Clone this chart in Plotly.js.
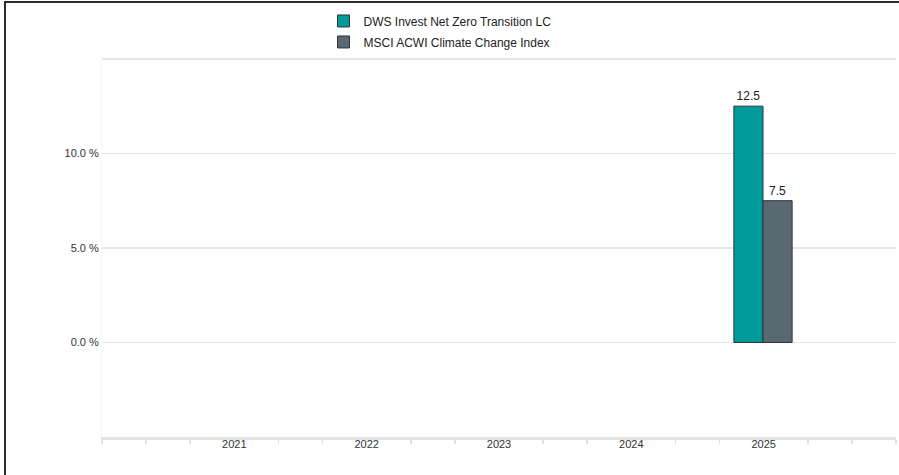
<!DOCTYPE html>
<html>
<head>
<meta charset="utf-8">
<script src="https://cdn.plot.ly/plotly-3.0.1.min.js"></script>
<style>
  html, body { margin: 0; padding: 0; background: #fff; }
  #wrap { position: relative; width: 899px; height: 475px; overflow: hidden; }
  #chart { position: absolute; left: 0; top: 0; width: 899px; height: 475px; }
  #frame { position: absolute; left: 4px; top: 1px; width: 1000px; height: 1000px;
           border-top: 2px solid #2b2b2b; border-left: 2px solid #2b2b2b; pointer-events: none; }
</style>
</head>
<body>
<div id="wrap">
  <div id="chart"></div>
  <div id="frame"></div>
</div>
<script>
const years = [2021, 2022, 2023, 2024, 2025];
const yearLabels = ['2021', '2022', '2023', '2024', '2025'];
const fundName = 'DWS Invest Net Zero Transition LC';
const indexName = 'MSCI ACWI Climate Change Index';
const fundValues = [null, null, null, null, 12.5];
const indexValues = [null, null, null, null, 7.5];
const yTickVals = [0, 5, 10, 15];
const yTickText = ['0.0 %', '5.0 %', '10.0 %', ''];

const fmt = v => (v === null ? '' : v.toFixed(1));

const traces = [
  {
    type: 'bar', name: fundName, x: years, y: fundValues, legendgroup: 'a',
    width: 0.22, offset: -0.225,
    marker: { color: '#009a9a', line: { color: '#2e3438', width: 1 } },
    text: fundValues.map(fmt), textposition: 'outside', cliponaxis: false,
    textfont: { size: 12, color: '#222' }
  },
  {
    type: 'bar', name: indexName, x: years, y: indexValues, legendgroup: 'b',
    width: 0.22, offset: -0.005,
    marker: { color: '#5a6872', line: { color: '#2e3438', width: 1 } },
    text: indexValues.map(fmt), textposition: 'outside', cliponaxis: false,
    textfont: { size: 12, color: '#222' }
  }
];

const layout = {
  width: 899, height: 475,
  margin: { l: 102, r: 3, t: 57, b: 38, pad: 0 },
  paper_bgcolor: '#fff', plot_bgcolor: '#fff',
  font: { family: 'Liberation Sans, Arial, sans-serif', size: 11, color: '#333' },
  barmode: 'group',
  showlegend: true,
  legend: {
    orientation: 'v', x: 0.279, xanchor: 'left', y: 1.133, yanchor: 'top',
    font: { size: 12, color: '#222' }, traceorder: 'grouped',
    itemwidth: 30, tracegroupgap: 2, bgcolor: 'rgba(0,0,0,0)'
  },
  xaxis: {
    type: 'linear', range: [2020, 2026],
    tickmode: 'array', tickvals: years, ticktext: yearLabels,
    ticks: '', showgrid: false, zeroline: false,
    showline: true, linecolor: '#e4e4e4', linewidth: 3,
    ticklabelstandoff: -5,
    tickfont: { size: 11, color: '#333' },
    minor: { tickmode: 'linear', tick0: 2020, dtick: 1/3, ticks: 'outside', ticklen: 4, tickcolor: '#e0e0e0', tickwidth: 1.5, showgrid: false }
  },
  yaxis: {
    range: [-5, 15.1], tickmode: 'array', tickvals: yTickVals, ticktext: yTickText,
    showgrid: true, gridcolor: '#e6e6e6', gridwidth: 1.5,
    zeroline: false, showline: true, linecolor: '#f6f6f6', linewidth: 1,
    ticks: '', ticklabelstandoff: 0,
    tickfont: { size: 11, color: '#333' }
  }
};

Plotly.newPlot('chart', traces, layout, { displayModeBar: false, staticPlot: true });
</script>
</body>
</html>
